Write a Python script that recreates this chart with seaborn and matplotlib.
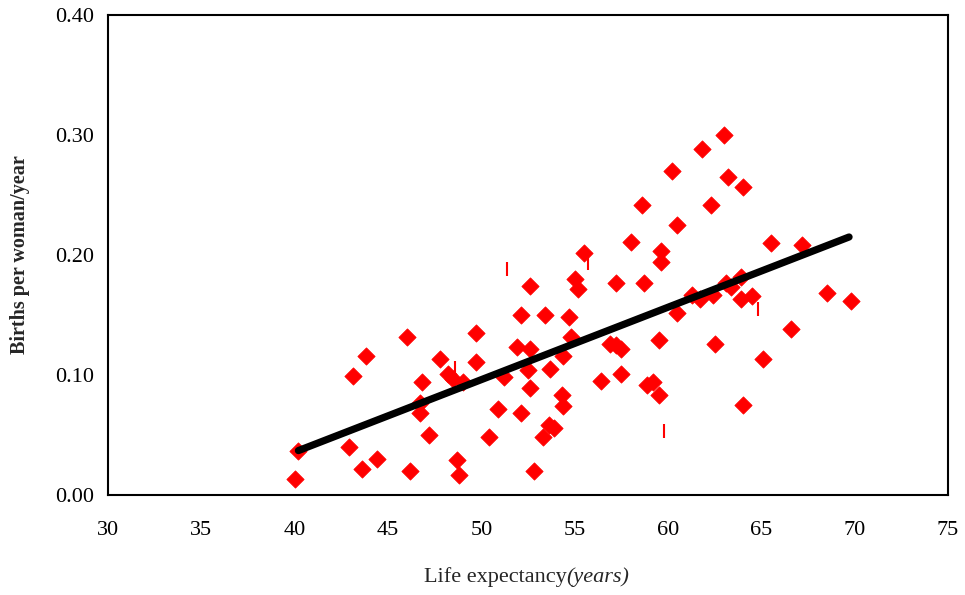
import matplotlib
matplotlib.use("Agg")
import matplotlib.pyplot as plt
import seaborn as sns
import pandas as pd

# Scatter data (diamonds)
life_exp = [40.0, 40.2, 42.9, 43.1, 43.6, 43.8, 44.4, 46.0, 46.2, 46.8, 46.7, 46.7, 47.2,
            47.8, 48.2, 48.5, 49.0, 48.7, 48.8, 49.7, 49.7, 50.4, 50.9, 51.2, 51.9, 52.1,
            52.1, 52.6, 52.6, 52.5, 52.6, 52.8, 53.3, 53.4, 53.6, 53.9, 53.7, 54.3, 54.4,
            54.4, 54.7, 54.8, 55.0, 55.2, 55.5, 56.4, 56.9, 57.2, 57.5, 57.5, 57.2, 58.0,
            58.6, 58.7, 58.9, 59.2, 59.5, 59.5, 59.6, 59.6, 60.2, 60.5, 60.5, 61.3, 61.7,
            61.8, 62.3, 62.4, 62.5, 63.0, 63.1, 63.2, 63.4, 63.9, 63.9, 64.0, 64.0, 64.5,
            65.1, 65.5, 66.6, 67.2, 68.5, 69.8]
births = [0.013, 0.037, 0.040, 0.099, 0.022, 0.116, 0.030, 0.132, 0.020, 0.094, 0.077, 0.068, 0.050,
          0.113, 0.101, 0.097, 0.094, 0.029, 0.017, 0.135, 0.111, 0.048, 0.072, 0.098, 0.123, 0.150,
          0.068, 0.174, 0.122, 0.104, 0.089, 0.020, 0.048, 0.150, 0.058, 0.056, 0.105, 0.083, 0.074,
          0.116, 0.148, 0.132, 0.180, 0.172, 0.202, 0.095, 0.126, 0.125, 0.122, 0.101, 0.177, 0.211,
          0.242, 0.177, 0.092, 0.094, 0.083, 0.129, 0.203, 0.194, 0.270, 0.225, 0.152, 0.167, 0.163,
          0.288, 0.242, 0.167, 0.126, 0.300, 0.177, 0.265, 0.173, 0.182, 0.163, 0.257, 0.075, 0.166,
          0.113, 0.210, 0.138, 0.208, 0.168, 0.162]

# Small vertical marks
mark_x = [48.6, 51.4, 55.7, 59.8, 64.8]
mark_y = [0.106, 0.188, 0.193, 0.053, 0.155]

# Trend line endpoints
trend_x = [40.2, 69.7]
trend_y = [0.037, 0.215]

x_ticks = [30, 35, 40, 45, 50, 55, 60, 65, 70, 75]
y_ticks = [0.00, 0.10, 0.20, 0.30, 0.40]
y_tick_labels = ["0.00", "0.10", "0.20", "0.30", "0.40"]

sns.set_theme(style="white")
plt.rcParams['font.family'] = ['Liberation Serif', 'DejaVu Serif']

fig = plt.figure(figsize=(9.65, 5.95), dpi=100)
ax = fig.add_axes([108/965, 1-495/595, (948-108)/965, (495-15)/595])

df = pd.DataFrame({"x": life_exp, "y": births})
dm = pd.DataFrame({"x": mark_x, "y": mark_y})
dt = pd.DataFrame({"x": trend_x, "y": trend_y})

sns.scatterplot(data=df, x="x", y="y", marker="D", s=78, color="#ff0000",
                edgecolor="#ff0000", linewidth=0.5, ax=ax, zorder=3)
sns.scatterplot(data=dm, x="x", y="y", marker="|", s=100, color="#ff0000",
                linewidth=1.5, ax=ax, zorder=3)
sns.lineplot(data=dt, x="x", y="y", color="black", linewidth=5.2, ax=ax,
             zorder=4, solid_capstyle="round")

ax.set_xlim(30, 75)
ax.set_ylim(0, 0.40)
ax.set_xticks(x_ticks)
ax.set_yticks(y_ticks)
ax.set_yticklabels(y_tick_labels)
ax.tick_params(axis="both", direction="out", length=6, width=1.5, color="black",
               labelsize=16, labelcolor="black", pad=4)
ax.tick_params(axis="x", pad=13)
for sp in ax.spines.values():
    sp.set_color("black")
    sp.set_linewidth(1.5)
    sp.set_visible(True)

ax.set_xlabel("")
ax.set_ylabel("Births per woman/year", fontsize=14.5, fontweight="bold", labelpad=18)

fig.text(424/965, 1-577/595, "Life expectancy", fontsize=16, ha="left", va="center")
fig.text(566/965, 1-577/595, "(years)", fontsize=16, style="italic", ha="left", va="center")

fig.savefig("out.png", dpi=100)
